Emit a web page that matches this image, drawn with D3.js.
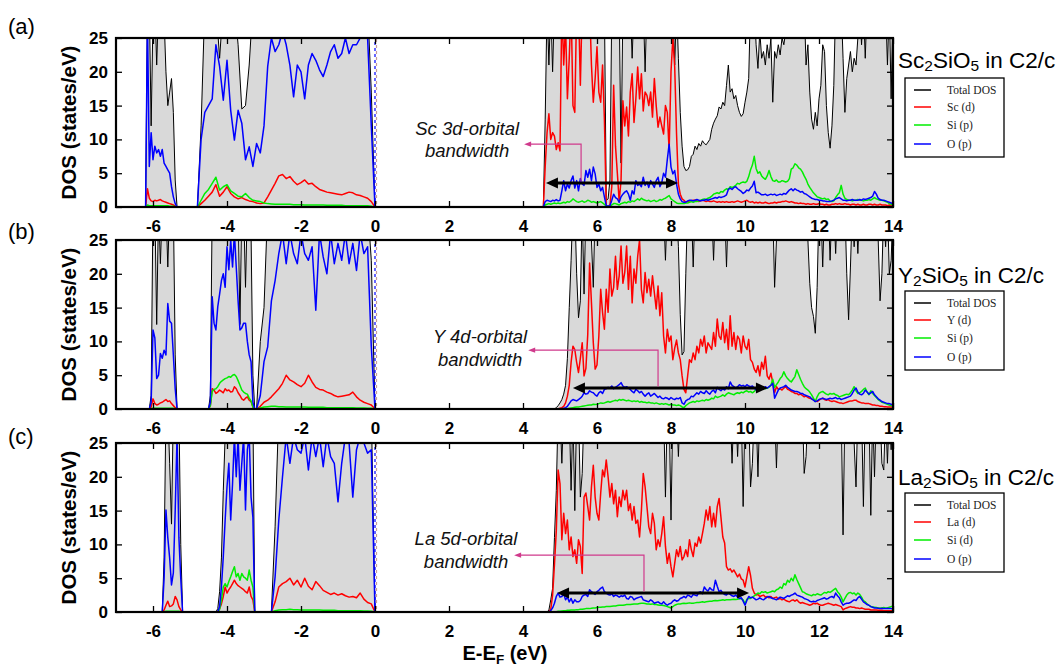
<!DOCTYPE html>
<html>
<head>
<meta charset="utf-8">
<title>Projected DOS of RE2SiO5 (C2/c)</title>
<script src="https://cdn.jsdelivr.net/npm/d3@7/dist/d3.min.js"></script>
<style>
  html, body { margin: 0; padding: 0; background: #fff; }
  svg { display: block; }
</style>
</head>
<body>
<svg id="chart" width="1058" height="666"></svg>
<script>
// ---------------- axis ticks ----------------
const energyTicks = [-6, -4, -2, 0, 2, 4, 6, 8, 10, 12, 14];
const dosTicks = [0, 5, 10, 15, 20, 25];

// ================= Sc2SiO5 =================
// valence band 1: from -6.20 eV, 0.05 eV step
const scV1Total = [0,30,30,12,28,30,21,30,30,30,28,20,15,17,19,14,4,0,0];
const scV1D     = [0,2.7,1.3,0.9,0.8,1,0.9,1,1.1,0.9,0.8,0.7,0.6,0.5,0.4,0.3,0.1,0,0];
const scV1Si    = [0,0.3,0.2,0.2,0.2,0.2,0.2,0.2,0.2,0.2,0.2,0.2,0.2,0.1,0.1,0.1,0.05,0,0];
const scV1O     = [0,28,6,11,7,9,8,8.5,7.5,8.5,6.5,6,5.5,5,3,1.5,0.5,0,0];
// valence band 2: from -4.80 eV, 0.1 eV step
const scV2Total = [0,12,30,30,27,30,22,30,30,30, 30,24,14.5,15,21,30,30,30,30,30,
  30,30,30,30,30,30,30,30,30,30, 30,30,30,30,30,30,30,30,30,30, 30,30,30,30,30,30,30,17,0];
const scV2D = [0,0.5,1,1.6,2.2,3.3,1.6,2.2,3,2, 1.5,1.2,1.4,1.1,0.9,0.8,0.6,0.5,0.6,1.5,
  2.5,3.5,4.6,4.8,4.2,4.5,3.8,3.3,3.6,4, 3.4,3.5,3,2.6,2.4,2.2,2.1,2,1.9,1.8, 2,2.2,2.1,1.8,1.7,1.5,1.3,0.8,0];
const scV2Si = [0,1,2,2.6,3.5,4.4,2.5,3,3.3,2.4, 2,1.6,1.5,2,1.4,1,0.9,0.8,0.6,0.5,
  0.45,0.4,0.4,0.4,0.4,0.4,0.35,0.35,0.35,0.3, 0.3,0.3,0.3,0.3,0.3,0.25,0.25,0.25,0.25,0.25, 0.2,0.2,0.2,0.2,0.2,0.2,0.2,0.1,0];
const scV2O = [0,10,14,15,16,24,20.8,15.8,21.7,14.3, 9.9,14.3,12.4,7,8.9,6,9.4,8,12,20.8,
  25,23,24,26,24,21,16.3,21,20,16, 21,22.7,21.7,20.3,19.3,21,23,24,22,22.7, 25,22.7,24,24,25,26,25,12,0];
// conduction band: from 4.50 eV, 0.05 eV step
const scCTotal = [
  0,0,13,30,21,30,20,30,30,30,30,30,30,30,30,30,30,30,30,30,
  30,30,30,30,30,30,30,30,30,30,30,30,30,30,30,1,1.2,4,30,30,
  30,30,30,6.5,30,30,30,27,30,22,30,30,30,30,30,30,20,30,30,30,
  30,30,30,30,30,30,30,30,30,30,30,30,21,30,22,14,9,6,5.4,5.5,
  6,7.5,7.8,9,8.5,9.4,9,9.8,9.4,9.2,9.6,10,11.5,12.4,13,13.5,14.8,14.5,15.5,15,
  18,21,17,17.5,16,16.5,15,14,13.4,13.8,15.5,17,19,30,30,30,24,20.5,26,22,
  23,21,24,22,25,15.5,23,22,24,22.5,25,24,26,30,30,30,30,30,30,30,
  30,30,30,21,24,17,13,11.5,14,12,16,18,24,23,15,11,8.7,12,18,30,
  30,25,30,22,14,19,21,23,20,22,21,25,30,24,30,22,30,30,30,30,
  30,30,30,30,30,30,30,21,30,16,30];
const scCD = [
  0,0,6,11,13.8,10,11,10.5,8.5,9.5,8.3,30,21,27,16,22,30,15,14,30,
  30,18,30,30,30,30,30,21,15.5,19,23.7,17,15.5,21,13,0.2,0.1,0.3,3,18,
  9,5,0.8,4,15.7,12,14.8,10.5,17,19.7,12.5,16,20.7,16,19.7,14.2,17,16.5,15,17,
  13.3,19,15,11.8,13.3,12,10.8,15,14,8.3,20,25,20.7,10.8,3.4,1.9,1.2,1,0.7,0.8,
  0.9,0.9,1,1,0.9,0.8,0.9,1,0.9,0.8,0.9,0.8,0.8,0.9,0.8,0.7,0.8,0.7,0.8,0.7,
  0.8,0.7,0.7,0.8,0.7,0.8,0.9,0.8,0.7,0.8,0.9,1,0.8,0.7,0.8,0.6,0.7,0.6,0.7,0.6,
  0.6,0.7,0.6,0.5,0.6,0.6,0.7,0.6,0.7,0.7,0.8,0.8,0.9,0.8,0.7,0.8,0.7,0.6,0.6,0.5,
  0.6,0.5,0.5,0.4,0.5,0.4,0.4,0.5,0.4,0.4,0.5,0.4,0.4,0.3,0.4,0.3,0.3,0.4,0.4,0.5,
  0.4,0.5,0.4,0.4,0.5,0.4,0.4,0.3,0.4,0.4,0.3,0.4,0.3,0.3,0.4,0.3,0.3,0.4,0.4,0.3,
  0.4,0.3,0.3,0.4,0.3,0.3,0.3,0.2,0.3,0.2,0.2];
const scCSi = [
  0,0,0.3,0.4,0.5,0.4,0.5,0.6,0.5,0.6,0.5,0.6,0.7,0.6,0.8,0.7,0.9,1.2,1,0.8,
  0.7,0.8,0.9,0.7,0.8,1,0.9,0.7,0.8,0.7,0.6,0.7,0.8,0.6,0.4,0.1,0.1,0.1,0.3,0.5,
  0.5,0.4,0.3,0.5,0.6,0.7,0.6,0.8,0.7,0.9,0.8,1,1.2,1,1.3,1.1,1,0.9,1,0.8,
  0.9,1,0.8,0.9,1.1,1,1.2,1.3,1.5,1.7,1.2,1,0.8,0.6,0.5,0.5,0.5,0.5,0.6,0.6,
  0.7,0.8,0.7,0.8,0.8,0.9,1,1.1,1.2,1.1,1.3,1.4,1.6,1.9,2,2.1,2,2.3,2.2,2.5,
  2.7,2.6,3,2.9,3,3.2,3.5,3.4,3.6,3.7,3.6,3.8,4.5,5.5,6.2,7.5,5.7,5,5.2,4.6,
  4.3,4.1,4.6,5.4,4.5,3.9,3.8,4,3.7,3.7,3.9,3.8,3.7,3.8,4.2,5.6,5.8,6.4,6.2,5.8,
  5.6,5.2,4.6,4.1,3.4,2.9,2.5,2.1,1.8,1.5,1.4,1.3,1.2,1.3,1.1,1.2,0.9,0.8,0.9,1.4,
  1.8,2.1,3.2,1.9,1.3,1.1,1,1,0.9,1,1,1.1,1,1,0.9,1,1,1.1,1,1.2,
  1.4,1.2,1.1,1,1,0.9,0.8,0.7,0.5,0.4,0.3];
const scCO = [
  0,0,0.8,1,0.9,0.8,1,0.9,1.1,0.9,1,2.4,3.9,2.4,3.4,2.8,3.9,4.6,2.8,3.9,
  2.4,4.2,3.4,3.2,5.4,4.4,5.6,3.9,5.9,4.9,2.9,3.4,2.4,2.9,1.5,0.2,0.1,0.2,1,1.9,
  1.4,1.2,0.7,1.5,1.9,2.2,2.4,1.9,1,2.4,1.9,3.9,3.2,3.4,3,4.4,3.2,3.7,2.9,3.9,
  3.4,2.9,3.9,4.4,3,3.6,5,4.4,7,9.3,5.9,4.9,5.4,3.4,1.9,1.2,0.8,0.7,0.7,0.9,
  1,1,0.9,1,1.1,1,0.9,1,1,1.1,1,1.1,1.2,1.3,1.4,1.3,1.5,1.4,1.5,1.6,
  1.8,2.6,2.8,2.6,2.9,3,2.7,2.5,2.3,2,2.2,2.5,2.4,2.8,3.1,3.8,2.1,2.2,2,1.8,
  1.8,1.9,1.7,1.8,1.9,1.8,1.9,1.7,1.8,1.9,1.8,2,1.9,2.2,2.5,2.7,2.4,2.7,2.5,2.4,
  2.2,2.3,2,1.9,1.7,1.5,1.3,1.2,1.1,1.1,1,1,0.9,0.9,0.8,0.8,0.8,0.9,1,1.2,
  1.3,1.4,1.2,1,1,0.9,1,1,1.1,1,1,1,1.1,1,1.2,1.1,1.2,1.3,1.4,1.6,
  2.3,1.9,1.3,1.1,1,1,0.9,0.8,0.7,0.6,0.5];

// ================= Y2SiO5 =================
// valence band 1: from -6.10 eV, 0.05 eV step
const yV1Total = [0,2,30,30,12.5,30,21.5,30,30,30,21,30,26,30,8,0];
const yV1D     = [0,0.3,1.5,0.8,0.6,0.7,0.9,1,1.2,1.4,1.1,1.2,0.8,0.5,0.2,0];
const yV1Si    = [0,0.05,0.1,0.1,0.1,0.1,0.1,0.1,0.1,0.1,0.1,0.1,0.1,0.1,0.05,0];
const yV1O     = [0,1,11.7,10.5,4.5,5,8.2,7.5,8.7,8,15.6,13,12.7,8,3,0];
// valence band 2: from -4.50 eV, 0.05 eV step
const yV2Total = [0,2,30,30,30,30,30,30,30,30, 30,30,30,30,30,30,30,12.5,30,30, 18,30,30,26,5,0];
const yV2D     = [0,0.5,3,2.8,2.3,2.5,2.8,2.6,2.4,3, 2.7,2.8,2.5,2.6,3.3,3,2.4,2,1.5,1.3, 1.6,1.8,1.3,1.1,0.3,0];
const yV2Si    = [0,0.5,2.6,2.9,3,3.3,3.8,4.1,4.3,4.5, 4.6,4.8,4.7,5,5.1,4.8,4.2,3.5,2.8,2.5, 2.3,2.2,1.6,1.2,0.3,0];
const yV2O     = [0,1,16.6,12.7,11.7,15.1,17,19,20,18, 24,20.6,25,21,26,21,16,11.7,12,12.7, 12.7,10,8,7,1,0];
// valence band 3: from -3.20 eV, 0.1 eV step
const yV3Total = [0,10,15,30,30,30,30,30,30,30, 30,30,30,30,30,30,30,30,30,30,
  30,30,30,30,30,30,30,30,30,30, 30,22,0];
const yV3D = [0,0.4,1,1.3,1.8,2.4,3,3.8,5,4.3, 4,3.6,3.3,3.8,5,4,3.2,2.9,2.8,2.5,
  2.3,2,1.8,1.9,2,2.1,2.5,1.8,1.3,1, 0.8,0.6,0];
const yV3Si = [0,0.15,0.3,0.35,0.4,0.4,0.35,0.35,0.3,0.3, 0.3,0.3,0.3,0.3,0.25,0.25,0.25,0.25,0.25,0.2,
  0.2,0.2,0.2,0.2,0.2,0.2,0.2,0.15,0.15,0.15, 0.1,0.1,0];
const yV3O = [0,2,7,9.2,16,19,23,26,21.5,26, 23,21.5,26,23,22,24,14.6,26,22.5,20,
  26,21.5,24.5,22,26,21.5,24.5,20.5,26,23, 24,9.2,0];
// conduction band: from 4.80 eV, 0.05 eV step
const yCTotal = [
  0,0,0.2,0.5,0.9,1.4,2.2,3.5,7.5,15,22,30,30,20,13.5,16,30,17,30,30,
  30,25,18,30,30,30,30,30,30,30,30,30,30,30,30,30,30,30,30,30,
  30,30,30,30,30,30,30,30,30,30,30,30,30,30,30,30,30,30,30,30,
  30,22,30,26,30,30,30,30,24,14,8,8.5,20,30,30,30,21,30,30,30,
  30,30,30,30,30,30,30,22,30,25,30,30,30,30,21,30,30,30,30,30,
  30,30,30,30,30,30,30,30,30,30,30,30,30,30,30,25,30,30,30,30,
  18,25,30,30,30,30,30,30,30,30,30,30,30,30,30,30,30,30,25,18.6,
  15,13.7,11.2,18,30,30,21,30,30,30,22,30,30,23,30,30,30,30,30,20,
  13.2,21,30,24,30,23,30,30,30,30,30,30,30,30,30,30,25,16,20,30,
  24,30,20,22,30];
const yCD = [
  0,0,0,0,0.1,0.2,0.4,0.9,1.9,3.5,6.9,9.3,8.8,6.9,5.4,7.5,9.8,4.9,6,11,
  21.6,15.7,9.8,5.9,6.5,10.8,17.7,14.3,11.8,17.7,14.3,20.7,16.7,18,22.6,17.7,19.7,24.1,18.6,20.2,
  24.1,17.7,22.6,15.7,20.7,18.6,22.6,25,17.7,15.7,20.2,17.2,19.2,16.7,19.7,17.2,14.8,18.2,13.8,17.2,
  10.8,8.3,11.8,10,10.8,7.3,9,10.2,8.3,7.3,4.9,2.9,2.4,4.9,7.3,6.9,8.3,7.3,9.3,8.3,
  10.3,9.3,10.8,8.3,9.8,9.3,8.8,11.3,9.3,13.3,10.8,10.3,12.8,9.8,11.8,8.8,13.8,9.3,11.3,8.8,
  10.8,10.3,8.3,10.8,9.3,8.8,10.3,7.3,6.9,5.9,5.4,6.4,4.9,6.9,5.9,7.8,4.9,4.4,5.3,3.9,
  2.4,3.3,2.9,3,2.8,3.1,3.3,2.9,2.8,2.6,2.5,2.3,2.3,2.1,2.2,2,1.8,1.9,1.7,1.6,
  1.5,1.4,1.2,1.1,1.3,1.5,1.6,1.4,1.3,1.4,1.2,1.1,1.2,1.1,1,0.9,0.9,0.8,0.9,1,
  1.1,1.2,1.2,1.3,1.3,1.1,1,0.9,0.9,0.8,0.8,0.8,0.7,0.6,0.6,0.5,0.5,0.4,0.4,0.35,
  0.35,0.3,0.3,0.3,0.25];
const yCSi = [
  0,0,0,0,0,0,0,0,0.05,0.1,0.15,0.2,0.25,0.3,0.3,0.35,0.4,0.45,0.5,0.55,
  0.6,0.6,0.7,0.65,0.7,0.8,0.9,0.85,0.9,1,1.1,1,1.1,1.2,1.3,1.2,1.4,1.3,1.4,1.3,
  1.2,1.3,1.2,1.1,1.2,1.1,1.2,1,1.1,1,1,0.9,1,0.9,0.9,0.8,0.9,0.8,0.7,0.8,
  0.7,0.8,0.7,0.6,0.7,0.6,0.6,0.5,0.6,0.5,0.3,0.2,0.5,0.7,0.9,1,1.1,1,1.2,1.1,
  1.2,1.3,1.2,1.4,1.3,1.4,1.6,1.5,1.9,1.7,1.8,1.9,2.1,1.9,2.2,2.4,2.3,2.2,2.1,2.3,
  2.4,2.3,2.5,2.4,2.6,2.7,2.5,2.6,2.4,2.6,2.9,2.7,2.9,3.1,3.2,3,3.1,3.2,3.5,4.4,
  3.2,3.6,4,4.5,4.8,5.5,4.9,4.5,4.2,4,4.4,4.8,5.8,5.1,4.4,3.8,3.3,3,2.8,2.5,
  2.1,1.6,1.1,1.8,2.3,2.5,2.6,2.4,2.2,2.1,2.3,2.2,2.3,2.1,2,1.8,1.9,2,2.1,2.2,
  2.1,2.4,2.8,3.3,2.7,2.3,2.4,2.6,2.9,3.1,2.5,2.1,2.7,2.3,2,1.7,1.4,1.2,1,0.9,
  0.8,0.7,0.6,0.5,0.45];
const yCO = [
  0,0,0,0,0,0.05,0.1,0.2,0.4,0.8,1.2,1.4,1.3,1.2,1.4,1.6,1.9,2.4,2.2,2.3,
  2.7,2.5,2.4,2.1,1.9,2.4,2.6,2.3,2.9,3,3.2,3.1,3.4,3,3.2,3.4,3.6,3.9,3.4,3.2,
  3.3,3.1,2.9,2.6,2.4,2.9,2.7,2.4,2.6,2.2,1.9,2.2,2.4,1.9,2.1,2.3,2,1.7,1.9,1.6,
  1.5,1.7,1.6,1.4,1.7,1.5,1.4,1.6,1.5,1.7,0.9,0.7,1.2,1.4,1.5,1.9,1.8,2.1,2.4,2.2,
  2.6,2.4,2.3,2.7,2.4,2.2,2.6,2.8,2.4,3.2,2.9,2.7,3,2.8,3.3,3,4,3.5,3.3,3.1,
  3.3,3.6,3.4,3.5,3.3,3.6,3.4,3.3,3.4,3.1,2.8,3,3.2,3,3,3.3,3.1,3.3,3.5,3.8,
  1.6,2.2,2.8,3.1,3.2,3.3,3.5,3.2,3,2.8,2.7,2.6,2.6,2.5,2.3,2.3,2.1,2,1.9,1.8,
  1.5,1.3,1.1,1.2,1.4,1.5,1.6,1.5,1.4,1.5,1.6,1.5,1.6,1.7,1.5,1.6,1.4,1.5,1.6,1.7,
  1.8,1.9,2.3,2.8,3.1,2.5,2.2,2.1,2.3,2.8,2.5,2.2,2.4,2.6,2.1,1.8,1.5,1.3,1.1,1,
  0.9,0.8,0.8,0.7,0.6];

// ================= La2SiO5 =================
// valence band 1: from -5.75 eV, 0.05 eV step
const laV1Total = [0,8,30,30,22,13,30,30,30,30,10,0];
const laV1D     = [0,0.3,1,1.6,0.8,0.9,1.2,2.3,1.8,0.8,0.3,0];
const laV1Si    = [0,0.05,0.1,0.1,0.1,0.1,0.1,0.1,0.1,0.1,0.05,0];
const laV1O     = [0,5,15.1,11,8,4,5.8,15,26,11,5,0];
// valence band 2: from -4.30 eV, 0.05 eV step
const laV2Total = [0,0.5,3,8,18,26,30,30,30,30, 30,30,30,30,30,30,30,30,30,30, 30,0,0];
const laV2D     = [0,0,0.5,1.2,2.3,3.7,2.8,3.3,3.7,4.2, 4.7,4.2,3.9,3.7,3.5,3.3,3,2.8,3.7,2.3, 1.8,0,0];
const laV2Si    = [0,0,0.4,1.8,3.7,4.2,3.7,4.5,5.2,6, 6.7,5.2,5.7,4.7,5.7,5.2,5,4.7,6.2,4.7, 3.7,0,0];
const laV2O     = [0,0,0.8,3.7,8.2,13.6,18.5,22,13.6,19, 26,20,26,18,22,26,15.1,24,26,17, 14,0,0];
// valence band 3: from -2.80 eV, 0.1 eV step
const laV3Total = [0,12.6,30,30,30,30,30,30,30,30, 30,30,30,30,30,30,30,30,30,30, 30,30,30,30,30,30,30,30,0];
const laV3D     = [0,1.5,3.7,4.2,4.5,5,4,4.7,3.7,5, 3.8,3.3,4.5,3.9,3.2,2.9,2.6,2.8,2.5,2.7, 2.4,2.2,2.3,2.1,2.8,1.9,1.4,1.2,0];
const laV3Si    = [0,0.2,0.3,0.35,0.35,0.4,0.35,0.35,0.3,0.3, 0.3,0.3,0.3,0.3,0.25,0.25,0.25,0.25,0.2,0.2, 0.2,0.2,0.2,0.2,0.2,0.15,0.15,0.1,0];
const laV3O     = [0,5.2,13.6,20,26,22,26,24,23.5,26, 21,26,23,26,21.5,26,23,22,16.3,22, 26,25,17,24,26,25,23.5,24,0];
// conduction band: from 4.60 eV, 0.05 eV step
const laCTotal = [
  0,0,0.3,1.8,3.5,11,18,30,30,22,30,30,30,30,18,30,15,30,30,17,
  20.5,30,30,30,30,30,30,30,30,30,30,30,30,30,30,30,30,30,30,30,
  30,30,30,30,30,30,30,30,30,30,30,30,30,30,30,30,30,30,30,30,
  30,30,30,30,30,17,30,30,13.6,30,30,30,23,30,30,30,30,30,30,30,
  30,30,30,30,30,30,30,30,30,30,30,30,30,30,30,30,30,30,30,30,
  30,22,30,30,23,30,30,15.6,30,30,30,18.5,22,30,30,20,30,30,30,30,
  30,30,25,30,30,21.3,30,30,30,30,30,30,30,30,30,30,30,30,30,30,
  20.5,23,30,30,30,30,30,30,30,30,30,30,30,30,30,30,30,30,30,30,
  30,11.4,30,30,30,30,30,25,18.5,30,30,30,15.6,30,30,30,14.3,30,20,30,
  30,30,22,21,30,22,30,24,30];
const laCD = [
  0,0,0,0.4,2.5,7,12,21,19,10.7,14.6,11.6,13.6,9.2,11.1,8.2,9.2,7.2,10.7,9.7,
  5.7,17,17.6,15.6,13.6,18.5,21.7,17,14.6,13.6,17.6,21,20,22.5,20,17,19,16,18,14.1,
  17,15.6,18,16.6,18,15,16,13.6,15.6,13.1,13.6,11.1,15,20.5,18.5,15.6,12.6,11.6,14.6,13.1,
  9.2,10.7,9.7,11.6,14.1,9.7,7.2,8.7,6.7,5.2,7.2,9.2,8.2,9.7,7.7,8.2,9.2,8.2,10.7,9.2,
  8.2,10.2,9.7,11.1,10.2,11.6,13.1,15.1,13.6,15.6,12.6,14.6,12.6,15.6,16.8,14,11.1,10.2,6.7,6.2,
  6.4,5.9,6.2,5.7,5.2,5.6,4.9,4.7,3.7,5.2,6.7,5.4,3.5,2.8,2.5,2.6,2.3,2.4,2.5,2.2,
  2.3,2.1,2.3,2,2.1,2.2,1.9,2,1.8,1.9,1.7,1.6,1.5,1.7,1.8,1.6,1.8,1.5,1.3,1.4,
  1.3,1.2,1.1,1,1.1,1.3,1.2,1.3,1.1,1,1,1.1,1.2,1.3,1.2,1.1,1,1.1,1,0.9,
  0.8,0.3,0.5,0.6,0.7,0.8,0.7,0.7,0.6,0.6,0.5,0.6,0.5,0.4,0.4,0.4,0.3,0.3,0.3,0.3,
  0.25,0.25,0.25,0.2,0.2,0.2,0.2,0.2,0.2];
const laCSi = [
  0,0,0,0,0,0,0.05,0.1,0.1,0.15,0.2,0.2,0.25,0.25,0.3,0.3,0.3,0.35,0.35,0.4,
  0.4,0.45,0.5,0.5,0.5,0.55,0.6,0.6,0.65,0.7,0.7,0.75,0.75,0.8,0.8,0.8,0.85,0.9,0.9,0.95,
  1,1,1,1.05,1.1,1.1,1.1,1.15,1.2,1.2,1.2,1.25,1.3,1.3,1.25,1.2,1.2,1.15,1.2,1.1,
  1.1,1.05,1,1,0.95,0.9,0.8,0.7,0.6,0.8,1,1.1,1.2,1.2,1.25,1.3,1.25,1.3,1.35,1.3,
  1.3,1.35,1.4,1.4,1.45,1.5,1.45,1.5,1.55,1.6,1.6,1.65,1.7,1.65,1.7,1.75,1.8,1.75,1.8,1.8,
  1.8,1.85,1.9,1.85,1.9,1.95,2,1.8,1.2,1.9,2,2,2.2,2.4,2.6,2.8,2.7,3,2.9,3,
  2.8,2.9,3,3.1,3,3.3,3.4,3.7,3.5,4.2,4,4.7,4.4,5,4.6,5.5,4.8,4.2,3.6,3,
  2.9,2.7,2.6,2.5,2.4,2.6,2.5,2.7,2.6,2.5,2.7,2.9,2.8,3,2.9,3.1,3.3,3.5,3,2.7,
  2.2,1.5,2,2.5,2.8,2.9,2.7,2.8,2.5,2.8,2.6,2.2,1.7,1.5,1.2,1,0.8,0.75,0.7,0.65,
  0.6,0.6,0.6,0.65,0.6,0.6,0.7,0.8,0.8];
const laCO = [
  0,0,0,0.2,0.6,1.3,2.3,2.8,2.2,2.3,2.7,1.8,2.2,1.5,2,1.3,1.8,1.5,1.5,1.7,
  2.3,2.5,2.6,2.3,3.3,3,2.8,2.6,3,3.2,3.5,3.7,3,2.8,2.6,2.5,2.7,2.3,2.5,2.4,
  2.2,2.4,2.3,2.5,2,1.9,2.3,2.2,1.8,2,2.1,2.2,2.3,1.8,1.7,1.6,1.5,1.8,1.6,1.3,
  1.4,1.5,1.3,1.2,1.5,1.2,1,1.2,1.3,1.6,1.8,1.6,1.7,2,2.1,2.3,2.1,2.5,2.4,2.2,
  2.6,2.5,2.4,2.9,3,2.7,3.7,3.3,3.1,3.6,3.3,3.2,4.7,3.8,3,3.2,2.8,2.6,2.5,2.8,
  2.6,2.4,2.3,2.5,2.2,2,2.1,1.6,1,1.7,2.3,2.1,2.2,2,1.8,1.9,2.1,1.9,1.8,2,
  2.2,2.3,2.1,2,1.9,1.8,2,2.2,2.1,2,2.2,2.4,2.3,2.5,2.6,2.8,2.5,2.4,2.3,2.2,
  2,1.9,1.8,1.6,1.5,1.6,1.5,1.7,1.8,1.9,2,2.1,1.9,2,2.2,2.3,2.1,2.8,2.4,2.1,
  1.5,1,1.2,1.3,1.3,1.4,1.6,1.8,1.7,2.1,2.3,1.9,1.5,1.3,1.1,1,0.8,0.7,0.6,0.6,
  0.55,0.5,0.55,0.5,0.5,0.55,0.5,0.5,0.45];

// ---- energy windows holding each band (first energy and grid step, eV) ----
const scBands = [
  { e0: -6.20, de: 0.05, total: scV1Total, d: scV1D, si: scV1Si, o: scV1O },
  { e0: -4.80, de: 0.10, total: scV2Total, d: scV2D, si: scV2Si, o: scV2O },
  { e0:  4.50, de: 0.05, total: scCTotal,  d: scCD,  si: scCSi,  o: scCO }
];
const yBands = [
  { e0: -6.10, de: 0.05, total: yV1Total, d: yV1D, si: yV1Si, o: yV1O },
  { e0: -4.50, de: 0.05, total: yV2Total, d: yV2D, si: yV2Si, o: yV2O },
  { e0: -3.20, de: 0.10, total: yV3Total, d: yV3D, si: yV3Si, o: yV3O },
  { e0:  4.80, de: 0.05, total: yCTotal,  d: yCD,  si: yCSi,  o: yCO }
];
const laBands = [
  { e0: -5.75, de: 0.05, total: laV1Total, d: laV1D, si: laV1Si, o: laV1O },
  { e0: -4.30, de: 0.05, total: laV2Total, d: laV2D, si: laV2Si, o: laV2O },
  { e0: -2.80, de: 0.10, total: laV3Total, d: laV3D, si: laV3Si, o: laV3O },
  { e0:  4.60, de: 0.05, total: laCTotal,  d: laCD,  si: laCSi,  o: laCO }
];

// ---- d-band widths (eV) and the DOS level the arrow sits at ----
const scBandwidth = { from: 4.62, to: 8.19, level: 3.55 };
const yBandwidth  = { from: 5.35, to: 10.62, level: 3.1 };
const laBandwidth = { from: 4.92, to: 10.11, level: 2.8 };

// ---- panels ----
const compounds = [
  { tag: '(a)', metal: 'Sc', bands: scBands, bw: scBandwidth,
    legend: ['Total DOS', 'Sc (d)', 'Si (p)', 'O (p)'],
    note: ['Sc 3d-orbital', 'bandwidth'],
    noteAt: { e: 2.49, v1: 10.65, v2: 7.4 }, leader: { e: 5.57, v: 9.3, tip: 4.03 },
    top: 38, tagY: 34, titleY: 68, legendY: 78 },
  { tag: '(b)', metal: 'Y', bands: yBands, bw: yBandwidth,
    legend: ['Total DOS', 'Y (d)', 'Si (p)', 'O (p)'],
    note: ['Y 4d-orbital', 'bandwidth'],
    noteAt: { e: 2.84, v1: 9.76, v2: 6.36 }, leader: { e: 7.65, v: 8.7, tip: 4.14 },
    top: 240, tagY: 239, titleY: 283, legendY: 291 },
  { tag: '(c)', metal: 'La', bands: laBands, bw: laBandwidth,
    legend: ['Total DOS', 'La (d)', 'Si (d)', 'O (p)'],
    note: ['La 5d-orbital', 'bandwidth'],
    noteAt: { e: 2.46, v1: 9.9, v2: 6.5 }, leader: { e: 7.27, v: 8.4, tip: 3.76 },
    top: 443, tagY: 444, titleY: 485, legendY: 493 }
];

// ---------------- drawing ----------------
const SANS = "'Liberation Sans', Arial, Helvetica, sans-serif";
const SERIF = "'Liberation Serif', 'Times New Roman', serif";
const PLOT_LEFT = 116, PLOT_RIGHT = 893, PLOT_H = 169;
const FILL = '#d9d9d9', PINK = '#d03a8c';
const seriesStyle = [
  { key: 'total', color: '#000000', width: 1 },
  { key: 'd',     color: '#ff0000', width: 1.5 },
  { key: 'si',    color: '#00ee00', width: 1.5 },
  { key: 'o',     color: '#0000ff', width: 1.5 }
];

const svg = d3.select('#chart');
const x = d3.scaleLinear().domain([-7, 14]).range([PLOT_LEFT, PLOT_RIGHT]);

function seriesPoints(bands, key) {
  const pts = [];
  bands.forEach(b => b[key].forEach((v, i) => pts.push([b.e0 + i * b.de, v])));
  return pts;
}

compounds.forEach((c, k) => {
  const top = c.top, bottom = top + PLOT_H;
  const y = d3.scaleLinear().domain([0, 25]).range([bottom, top]);
  const g = svg.append('g');

  const clipId = 'plot-clip-' + k;
  svg.append('clipPath').attr('id', clipId)
    .append('rect').attr('x', PLOT_LEFT).attr('y', top)
    .attr('width', PLOT_RIGHT - PLOT_LEFT).attr('height', PLOT_H);
  const plot = g.append('g').attr('clip-path', `url(#${clipId})`);

  // shaded total DOS
  const totalPts = seriesPoints(c.bands, 'total');
  plot.append('path').datum(totalPts)
    .attr('fill', FILL)
    .attr('d', d3.area().x(d => x(d[0])).y0(y(0)).y1(d => y(d[1])));

  // curves
  const line = d3.line().x(d => x(d[0])).y(d => y(d[1]));
  seriesStyle.forEach(s => {
    plot.append('path').datum(seriesPoints(c.bands, s.key))
      .attr('fill', 'none').attr('stroke', s.color)
      .attr('stroke-width', s.width).attr('stroke-linejoin', 'round')
      .attr('d', line);
  });

  // Fermi level
  plot.append('line').attr('x1', x(0)).attr('x2', x(0)).attr('y1', y(0)).attr('y2', y(25))
    .attr('stroke', '#0000ff').attr('stroke-width', 1.2).attr('stroke-dasharray', '3,3');
  plot.append('line').attr('x1', x(0) + 1.5).attr('x2', x(0) + 1.5).attr('y1', y(0)).attr('y2', y(25))
    .attr('stroke', '#c49a9a').attr('stroke-width', 1.2).attr('stroke-dasharray', '3,3')
    .attr('stroke-dashoffset', 3);

  // bandwidth double arrow
  const a0 = x(c.bw.from), a1 = x(c.bw.to), ay = y(c.bw.level);
  g.append('line').attr('x1', a0 + 8).attr('x2', a1 - 8).attr('y1', ay).attr('y2', ay)
    .attr('stroke', '#000').attr('stroke-width', 3);
  g.append('path').attr('d', `M${a0},${ay}l12,-5.5l0,11z`).attr('fill', '#000');
  g.append('path').attr('d', `M${a1},${ay}l-12,-5.5l0,11z`).attr('fill', '#000');

  // leader to the label
  const lx = x(c.leader.e), ly = y(c.leader.v), tipX = x(c.leader.tip);
  g.append('path').attr('d', `M${lx},${ay - 1.5}V${ly}H${tipX + 5}`)
    .attr('fill', 'none').attr('stroke', PINK).attr('stroke-width', 1.2);
  g.append('path').attr('d', `M${tipX},${ly}l7,-2.6l0,5.2z`).attr('fill', PINK);

  // label text
  const note = g.append('g').attr('font-family', SANS).attr('font-style', 'italic')
    .attr('font-size', 18.5).attr('text-anchor', 'middle').attr('fill', '#111');
  note.append('text').attr('x', x(c.noteAt.e)).attr('y', y(c.noteAt.v1)).text(c.note[0]);
  note.append('text').attr('x', x(c.noteAt.e)).attr('y', y(c.noteAt.v2)).text(c.note[1]);

  // axes (inward ticks on all four sides)
  const styleAxis = sel => {
    sel.attr('font-family', SANS).attr('font-size', 17).attr('font-weight', 'bold');
    sel.select('.domain').remove();
    sel.selectAll('.tick line').attr('stroke', '#000').attr('stroke-width', 1.3);
    sel.selectAll('.tick text').attr('fill', '#000');
  };
  g.append('g').attr('transform', `translate(0,${bottom})`)
    .call(d3.axisBottom(x).tickValues(energyTicks).tickFormat(d => String(d))
      .tickSizeInner(-6).tickSizeOuter(0).tickPadding(13))
    .call(styleAxis);
  g.append('g').attr('transform', `translate(0,${top})`)
    .call(d3.axisTop(x).tickValues(energyTicks).tickFormat('')
      .tickSizeInner(-6).tickSizeOuter(0))
    .call(styleAxis);
  g.append('g').attr('transform', `translate(${PLOT_LEFT},0)`)
    .call(d3.axisLeft(y).tickValues(dosTicks).tickFormat(d => String(d))
      .tickSizeInner(-6).tickSizeOuter(0).tickPadding(8))
    .call(styleAxis);
  g.append('g').attr('transform', `translate(${PLOT_RIGHT},0)`)
    .call(d3.axisRight(y).tickValues(dosTicks).tickFormat('')
      .tickSizeInner(-6).tickSizeOuter(0))
    .call(styleAxis);

  // frame
  g.append('rect').attr('x', PLOT_LEFT).attr('y', top)
    .attr('width', PLOT_RIGHT - PLOT_LEFT).attr('height', PLOT_H)
    .attr('fill', 'none').attr('stroke', '#000').attr('stroke-width', 2.2);

  // y title
  g.append('text').attr('transform', `translate(76,${top + PLOT_H / 2}) rotate(-90)`)
    .attr('text-anchor', 'middle').attr('font-family', SANS).attr('font-weight', 'bold')
    .attr('font-size', 20.5).text('DOS (states/eV)');

  // panel tag
  g.append('text').attr('x', 8).attr('y', c.tagY).attr('font-family', SANS)
    .attr('font-size', 22).text(c.tag);

  // compound title with subscripts
  const t = g.append('text').attr('x', 898).attr('y', c.titleY)
    .attr('font-family', SANS).attr('font-size', 22.5);
  t.append('tspan').text(c.metal);
  t.append('tspan').attr('font-size', 15.5).attr('dy', 3).text('2');
  t.append('tspan').attr('dy', -3).text('SiO');
  t.append('tspan').attr('font-size', 15.5).attr('dy', 3).text('5');
  t.append('tspan').attr('dy', -3).text(' in C2/c');

  // legend
  const lg = g.append('g').attr('transform', `translate(905,${c.legendY})`);
  lg.append('rect').attr('width', 99).attr('height', 79)
    .attr('fill', '#fff').attr('stroke', '#000').attr('stroke-width', 1.3);
  const rows = [12, 29, 47, 66];
  seriesStyle.forEach((s, i) => {
    lg.append('line').attr('x1', 9).attr('x2', 26).attr('y1', rows[i]).attr('y2', rows[i])
      .attr('stroke', s.color).attr('stroke-width', 1.5);
    lg.append('text').attr('x', 42).attr('y', rows[i] + 4)
      .attr('font-family', SERIF).attr('font-size', 11.5).attr('fill', '#222')
      .text(c.legend[i]);
  });
});

// x title
const xt = svg.append('text').attr('x', 505).attr('y', 660).attr('text-anchor', 'middle')
  .attr('font-family', SANS).attr('font-weight', 'bold').attr('font-size', 20);
xt.append('tspan').text('E-E');
xt.append('tspan').attr('font-size', 13.5).attr('dy', 4).text('F');
xt.append('tspan').attr('dy', -4).text(' (eV)');
</script>
</body>
</html>
